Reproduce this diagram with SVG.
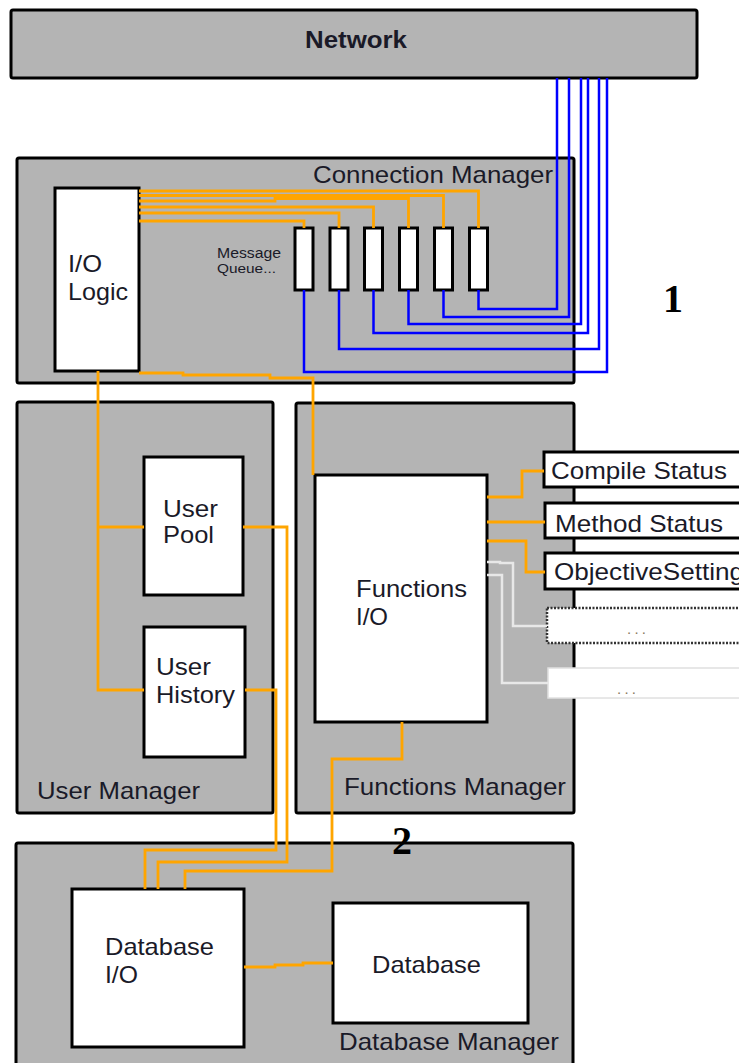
<svg xmlns="http://www.w3.org/2000/svg" width="739" height="1063" viewBox="0 0 739 1063">
<style>
.mgr{fill:#b4b4b4;stroke:#000;stroke-width:3}
.box{fill:#fff;stroke:#000;stroke-width:3}
.t{font-family:"Liberation Sans",Arial,sans-serif;font-size:24px;fill:#1a1a28}
.num{font-family:"Liberation Serif","Times New Roman",serif;font-size:40px;font-weight:bold;fill:#000}
.o{fill:none;stroke:#ffa500;stroke-width:2.8}
.b{fill:none;stroke:#0000ff;stroke-width:2.5}
.w{fill:none;stroke:#e8e8e8;stroke-width:2.5}
</style>
<rect width="739" height="1063" fill="#fff"/>
<g id="network">
<rect class="mgr" x="11" y="10" width="686" height="68" rx="2"/>
<text class="t" x="305" y="48" font-weight="bold" textLength="102" lengthAdjust="spacingAndGlyphs">Network</text>
</g>
<g id="connection-manager">
<rect class="mgr" x="17" y="158" width="557" height="225" rx="2"/>
<text class="t" x="313" y="183" textLength="240" lengthAdjust="spacingAndGlyphs">Connection Manager</text>
</g>
<g id="user-manager">
<rect class="mgr" x="17" y="402" width="256" height="411" rx="2"/>
<text class="t" x="37" y="799" textLength="163" lengthAdjust="spacingAndGlyphs">User Manager</text>
</g>
<g id="functions-manager">
<rect class="mgr" x="296" y="403" width="278" height="410" rx="2"/>
<text class="t" x="344" y="795" textLength="222" lengthAdjust="spacingAndGlyphs">Functions Manager</text>
</g>
<g id="database-manager">
<rect class="mgr" x="16" y="843" width="557" height="240" rx="2"/>
<text class="t" x="339" y="1050" textLength="220" lengthAdjust="spacingAndGlyphs">Database Manager</text>
</g>
<g id="io-logic">
<rect class="box" x="55" y="188" width="84" height="183"/>
<text class="t" x="68" y="272" textLength="34" lengthAdjust="spacingAndGlyphs">I/O</text>
<text class="t" x="68" y="300" textLength="60" lengthAdjust="spacingAndGlyphs">Logic</text>
</g>
<g id="message-queue-label">
<text class="t" x="217" y="258" style="font-size:14px" textLength="64" lengthAdjust="spacingAndGlyphs">Message</text>
<text class="t" x="217" y="273" style="font-size:13px" textLength="59" lengthAdjust="spacingAndGlyphs">Queue...</text>
</g>
<g id="queue-1"><rect class="box" x="295" y="228" width="18" height="62"/></g>
<g id="queue-2"><rect class="box" x="330" y="228" width="18" height="62"/></g>
<g id="queue-3"><rect class="box" x="364.5" y="228" width="18" height="62"/></g>
<g id="queue-4"><rect class="box" x="399.5" y="228" width="18" height="62"/></g>
<g id="queue-5"><rect class="box" x="434.5" y="228" width="18" height="62"/></g>
<g id="queue-6"><rect class="box" x="469.5" y="228" width="18" height="62"/></g>
<g id="user-pool">
<rect class="box" x="144" y="457" width="99" height="138"/>
<text class="t" x="163" y="517" textLength="55" lengthAdjust="spacingAndGlyphs">User</text>
<text class="t" x="163" y="543" textLength="51" lengthAdjust="spacingAndGlyphs">Pool</text>
</g>
<g id="user-history">
<rect class="box" x="144" y="627" width="101" height="130"/>
<text class="t" x="156" y="675" textLength="55" lengthAdjust="spacingAndGlyphs">User</text>
<text class="t" x="156" y="703" textLength="79" lengthAdjust="spacingAndGlyphs">History</text>
</g>
<g id="functions-io">
<rect class="box" x="315" y="475" width="172" height="247"/>
<text class="t" x="356" y="597" textLength="111" lengthAdjust="spacingAndGlyphs">Functions</text>
<text class="t" x="356" y="625" textLength="32" lengthAdjust="spacingAndGlyphs">I/O</text>
</g>
<g id="compile-status">
<rect class="box" x="544" y="452" width="220" height="35"/>
<text class="t" x="551" y="479" textLength="176" lengthAdjust="spacingAndGlyphs">Compile Status</text>
</g>
<g id="method-status">
<rect class="box" x="545" y="503" width="220" height="35"/>
<text class="t" x="555" y="532" textLength="168" lengthAdjust="spacingAndGlyphs">Method Status</text>
</g>
<g id="objective-setting">
<rect class="box" x="545" y="553" width="220" height="36"/>
<text class="t" x="554" y="580" textLength="190" lengthAdjust="spacingAndGlyphs">ObjectiveSetting</text>
</g>
<g id="more-1">
<rect x="547" y="608" width="220" height="35" fill="#fff" stroke="#333" stroke-width="2.5" stroke-dasharray="2 1.5"/>
<text class="t" x="627" y="634" style="font-size:15px;fill:#8a7a60" textLength="19" lengthAdjust="spacing">...</text>
</g>
<g id="more-2">
<rect x="548" y="668" width="220" height="30" fill="#fff" stroke="#e0e0e0" stroke-width="1.5"/>
<text class="t" x="617" y="694" style="font-size:15px;fill:#8a7a60" textLength="19" lengthAdjust="spacing">...</text>
</g>
<g id="database-io">
<rect class="box" x="72" y="889" width="172" height="158"/>
<text class="t" x="105" y="955" textLength="109" lengthAdjust="spacingAndGlyphs">Database</text>
<text class="t" x="105" y="983" textLength="33" lengthAdjust="spacingAndGlyphs">I/O</text>
</g>
<g id="database">
<rect class="box" x="333" y="903" width="195" height="120"/>
<text class="t" x="372" y="973" textLength="109" lengthAdjust="spacingAndGlyphs">Database</text>
</g>
<g id="connectors">
<polyline class="b" points="304,290 304,372 607,372 607,78"/>
<polyline class="b" points="339,290 339,349 599,349 599,78"/>
<polyline class="b" points="373.5,290 373.5,333 588,333 588,78"/>
<polyline class="b" points="408.5,290 408.5,324 581,324 581,78"/>
<polyline class="b" points="443.5,290 443.5,317 569,317 569,78"/>
<polyline class="b" points="478.5,290 478.5,309 557,309 557,78"/>
<polyline class="o" points="139,191 478.5,191 478.5,228"/>
<polyline class="o" points="139,195.5 443.5,195.5 443.5,228"/>
<polyline class="o" points="139,201 275,201 275,198.5 408.5,198.5 408.5,228"/>
<polyline class="o" points="139,207 373.5,207 373.5,228"/>
<polyline class="o" points="139,213 339,213 339,228"/>
<polyline class="o" points="139,221 304,221 304,228"/>
<polyline class="o" points="139,373 183,373 183,375 270,375 270,378 313,378 313,475"/>
<polyline class="o" points="98,371 98,690 144,690"/>
<polyline class="o" points="98,527 144,527"/>
<polyline class="o" points="243,527 287,527 287,862 158,862 158,889"/>
<polyline class="o" points="245,690 276,690 276,850 145,850 145,889"/>
<polyline class="o" points="402,722 402,759 332,759 332,871 185,871 185,889"/>
<polyline class="o" points="244,967 275,967 275,965 303,965 303,963 333,963"/>
<polyline class="o" points="487,497 522,497 522,471 544,471"/>
<polyline class="o" points="487,522 545,522"/>
<polyline class="o" points="487,541 526,541 526,572 545,572"/>
<polyline class="w" points="487,562 500,562 500,563 513,563 513,626 547,626"/>
<polyline class="w" points="487,575 502,575 502,683 548,683"/>
</g>
<g id="labels">
<text class="num" x="663" y="312">1</text>
<text class="num" x="392" y="854">2</text>
</g>
</svg>
